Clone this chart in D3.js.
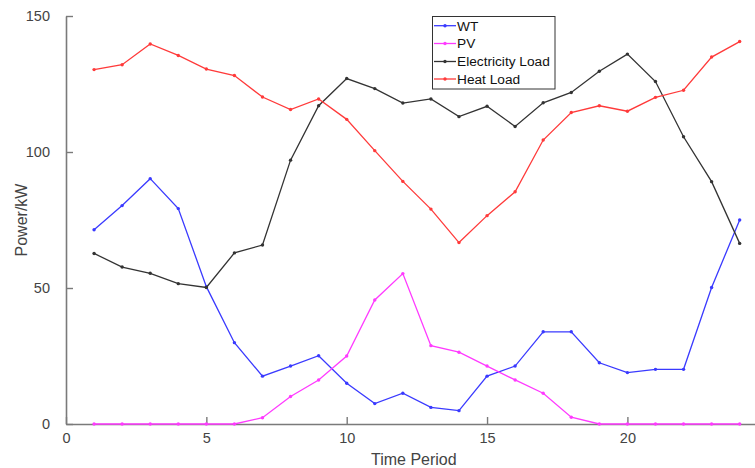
<!DOCTYPE html>
<html>
<head>
<meta charset="utf-8">
<script src="https://cdn.jsdelivr.net/npm/d3@7"></script>
<style>
  html, body { margin: 0; padding: 0; background: #fff; }
  svg { display: block; font-family: "Liberation Sans", Arial, sans-serif; }
</style>
</head>
<body>
<svg id="chart" width="755" height="468"></svg>
<script>
// Hourly time periods and power series (kW)
const periods = d3.range(1, 25);
const wt = [71.4, 80.3, 90.2, 79.2, 50.5, 29.9, 17.6, 21.3, 25.1, 15.0, 7.5, 11.3,
            6.1, 4.9, 17.6, 21.3, 33.9, 33.9, 22.5, 18.9, 20.1, 20.1, 50.2, 75.0];
const pv = [0, 0, 0, 0, 0, 0, 2.3, 10.1, 16.2, 25.0, 45.6, 55.3,
            28.8, 26.4, 21.3, 16.2, 11.3, 2.5, 0, 0, 0, 0, 0, 0];
const elecLoad = [62.7, 57.7, 55.4, 51.6, 50.2, 62.9, 65.8, 97.0, 117.0, 127.0, 123.3, 118.0,
                  119.5, 113.0, 116.8, 109.4, 118.1, 121.9, 129.7, 136.0, 125.9, 105.6, 89.1, 66.4];
const heatLoad = [130.3, 132.1, 139.7, 135.5, 130.5, 128.1, 120.2, 115.6, 119.5, 112.0, 100.5, 89.2,
                  79.0, 66.7, 76.6, 85.4, 104.4, 114.5, 117.0, 115.0, 120.1, 122.7, 134.9, 140.6];
const seriesNames = ["WT", "PV", "Electricity Load", "Heat Load"];
const xTicks = [0, 5, 10, 15, 20];
const yTicks = [0, 50, 100, 150];

const colors = ["#3a3aff", "#ff3aff", "#333333", "#ff3a3a"];
const seriesValues = [wt, pv, elecLoad, heatLoad];

const svg = d3.select("#chart");
const x = d3.scaleLinear().domain([0, 25]).range([66, 767.75]);
const y = d3.scaleLinear().domain([0, 150]).range([424, 16]);

const axisColor = "#7a7a7a";
const textColor = "#444";

// X axis (ticks pointing into the plot)
const gx = svg.append("g").attr("transform", `translate(0,${y(0)})`)
  .call(d3.axisBottom(x).tickValues(xTicks).tickSizeInner(-7).tickSizeOuter(0).tickPadding(9));
// Y axis
const gy = svg.append("g").attr("transform", `translate(${x(0)},0)`)
  .call(d3.axisLeft(y).tickValues(yTicks).tickSizeInner(-7).tickSizeOuter(0).tickPadding(16));
[gx, gy].forEach(g => {
  g.select(".domain").attr("stroke", axisColor).attr("stroke-width", 1.6);
  g.selectAll(".tick line").attr("stroke", axisColor).attr("stroke-width", 1.4);
  g.selectAll(".tick text").attr("fill", textColor)
    .style("font-size", "14.5px").style("font-family", "'Liberation Sans', Arial, sans-serif");
});
gx.selectAll(".tick text").attr("dy", "0.71em");

// Axis titles
svg.append("text").attr("x", 413.8).attr("y", 465).attr("text-anchor", "middle")
  .attr("fill", textColor).style("font-size", "16px").text("Time Period");
svg.append("text").attr("transform", "translate(27,220) rotate(-90)").attr("text-anchor", "middle")
  .attr("fill", textColor).style("font-size", "16px").text("Power/kW");

// Series lines with point markers
const line = d3.line().x((d, i) => x(periods[i])).y(d => y(d));
seriesValues.forEach((vals, k) => {
  const g = svg.append("g");
  g.append("path").datum(vals).attr("d", line)
    .attr("fill", "none").attr("stroke", colors[k]).attr("stroke-width", 1.3);
  g.selectAll("circle").data(vals).join("circle")
    .attr("cx", (d, i) => x(periods[i])).attr("cy", d => y(d))
    .attr("r", 1.7).attr("fill", colors[k]);
});

// Legend
const lg = svg.append("g");
lg.append("rect").attr("x", 432.5).attr("y", 16.5).attr("width", 122.5).attr("height", 72.5)
  .attr("fill", "#fff").attr("stroke", "#333").attr("stroke-width", 1);
const legendY = [25.7, 43.5, 61.5, 79];
seriesNames.forEach((name, k) => {
  lg.append("line").attr("x1", 434).attr("x2", 456).attr("y1", legendY[k]).attr("y2", legendY[k])
    .attr("stroke", colors[k]).attr("stroke-width", 1.3);
  lg.append("circle").attr("cx", 445).attr("cy", legendY[k]).attr("r", 1.7).attr("fill", colors[k]);
  lg.append("text").attr("x", 457).attr("y", legendY[k]).attr("dy", "0.36em")
    .attr("fill", "#111").style("font-size", "13.7px").text(name);
});
</script>
</body>
</html>
